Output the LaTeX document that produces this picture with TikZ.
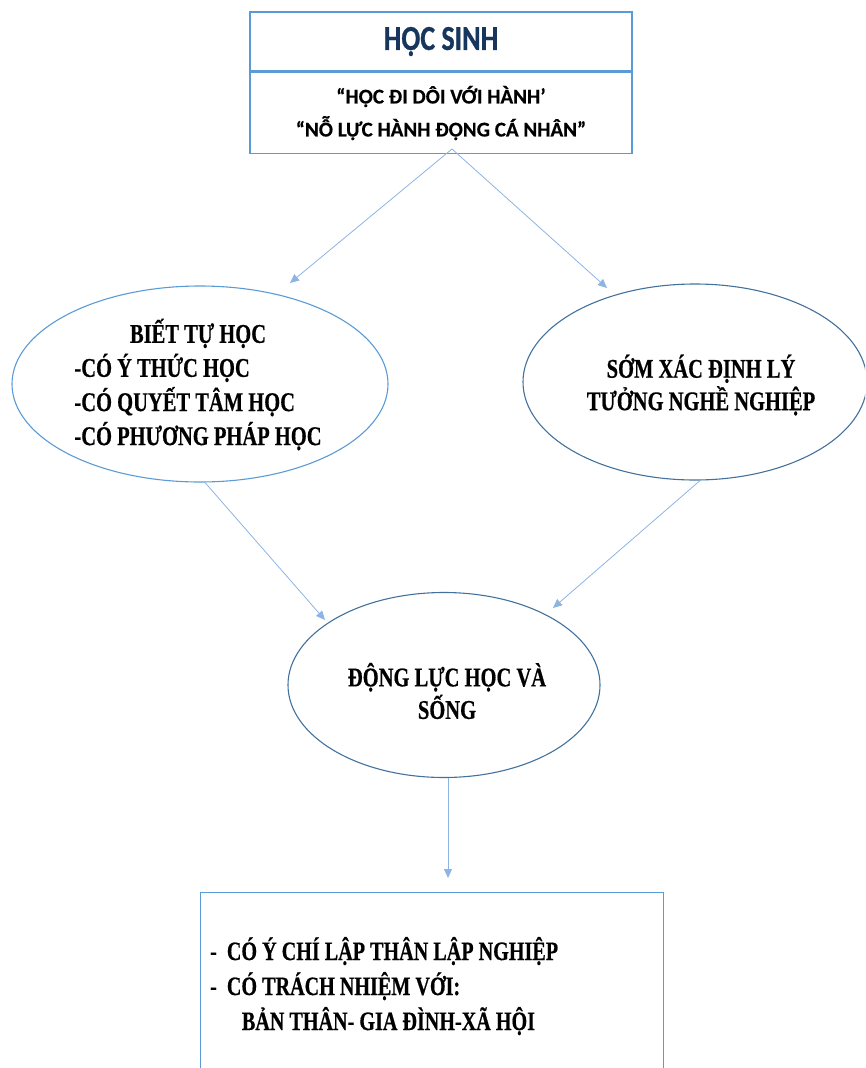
\documentclass[tikz,border=0pt]{standalone}
\usepackage{fontspec}
\usetikzlibrary{shapes.geometric,arrows.meta}
\newfontfamily\titlefont[FakeStretch=0.8, FakeBold=0.8]{Carlito Bold}
\newfontfamily\quotefont[FakeBold=0.4]{Carlito Bold}
\newfontfamily\narrowserif[FakeStretch=0.76, FakeBold=0.5]{Liberation Serif Bold}
\definecolor{boxblue}{HTML}{5B9BD5}
\definecolor{darkblue}{HTML}{41719C}
\definecolor{arrowblue}{HTML}{8DB4E2}
\definecolor{navy}{HTML}{17365D}
\begin{document}
\begin{tikzpicture}[x=1pt,y=-1pt,
  boxstyle/.style={draw=boxblue, line width=1.1pt, rectangle, inner sep=0pt},
  ellstyle/.style={ellipse, line width=1.1pt, inner sep=0pt},
  seriftext/.style={inner sep=0pt, align=center,
    font=\narrowserif\fontsize{27}{32.5}\selectfont},
  arr/.style={draw=arrowblue, line width=0.8pt, -{Triangle[length=9pt,width=8pt]}, arrowblue}
]
\useasboundingbox (0,0) rectangle (865,1068);
\clip (0,0) rectangle (865,1068);

% top box
\node[boxstyle, minimum width=382, minimum height=59] (title) at (441,41.5)
  {\titlefont\fontsize{35}{40}\selectfont\color{navy}HỌC SINH};
\node[boxstyle, minimum width=382, minimum height=81, align=center,
  font=\quotefont\fontsize{21}{33}\selectfont] (quote) at (441,113)
  {“HỌC ĐI DÔI VỚI HÀNH’\\“NỖ LỰC HÀNH ĐỘNG CÁ NHÂN”};

% ellipses
\node[ellstyle, draw=boxblue, minimum width=376, minimum height=196] (left) at (200,384) {};
\node[seriftext] (lefttext) at (198,387)
  {\fontsize{27}{34}\selectfont
   \begin{tabular}{@{}l@{}}\multicolumn{1}{@{}c@{}}{BIẾT TỰ HỌC}\\
   -CÓ Ý THỨC HỌC\\-CÓ QUYẾT TÂM HỌC\\-CÓ PHƯƠNG PHÁP HỌC\end{tabular}};
\node[ellstyle, draw=darkblue, minimum width=344, minimum height=196] (right) at (695,382) {};
\node[seriftext] (righttext) at (701,385) {SỚM XÁC ĐỊNH LÝ\\TƯỞNG NGHỀ NGHIỆP};
\node[ellstyle, draw=darkblue, minimum width=312, minimum height=185] (mid) at (444,685) {};
\node[seriftext] (midtext) at (447,691) {ĐỘNG LỰC HỌC VÀ\\SỐNG};

% bottom box
\node[boxstyle, anchor=north west, minimum width=463, minimum height=200] (res) at (200,892) {};
\node[anchor=west, inner sep=0pt, font=\narrowserif\fontsize{26.5}{35}\selectfont]
  (restext) at (210,988)
  {\begin{tabular}{@{}l@{\hspace{10pt}}l@{}}
   -& CÓ Ý CHÍ LẬP THÂN LẬP NGHIỆP\\
   -& CÓ TRÁCH NHIỆM VỚI:\\
    & \hspace{15pt}BẢN THÂN- GIA ĐÌNH-XÃ HỘI
   \end{tabular}};

% connectors
\coordinate (src) at (452,149);
\coordinate (tipL) at (290,283);
\coordinate (tipR) at (607,288);
\coordinate (tipM1) at (325,620);
\coordinate (tipM2) at (553,608);
\coordinate (tipB) at (448,878);
\draw[arr] (src) -- (tipL);
\draw[arr] (src) -- (tipR);
\draw[arr] ([xshift=5pt]left.south) -- (tipM1);
\draw[arr] ([xshift=5pt]right.south) -- (tipM2);
\draw[arr] (mid.south -| tipB) -- (tipB);
\end{tikzpicture}
\end{document}
